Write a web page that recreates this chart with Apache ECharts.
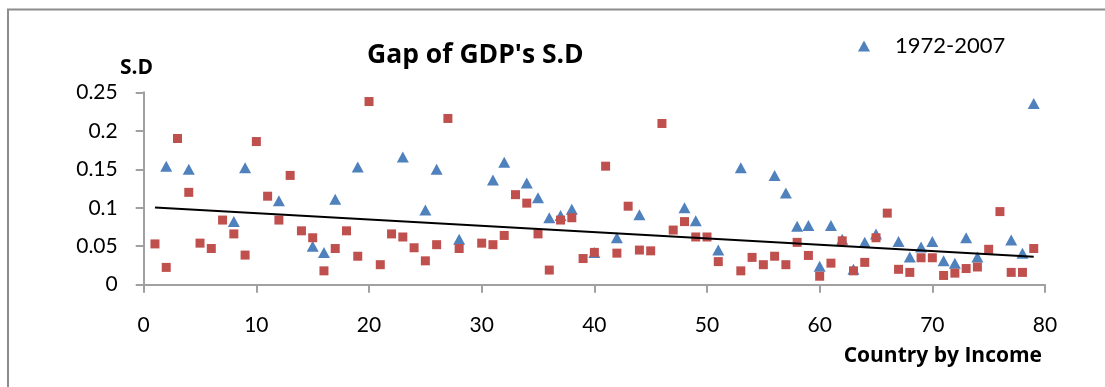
<!DOCTYPE html>
<html>
<head>
<meta charset="utf-8">
<script src="https://cdn.jsdelivr.net/npm/echarts@6/dist/echarts.min.js"></script>
<style>
html,body{margin:0;padding:0;background:#fff;}
#chart{width:1105px;height:387px;}
</style>
</head>
<body>
<div id="chart"></div>
<script>
// Country index (x) for the red series and its S.D values
const redX = [1,2,3,4,5,6,7,8,9,10,11,12,13,14,15,16,17,18,19,20,21,22,23,24,25,26,27,28,30,31,32,33,34,35,36,37,38,39,40,41,42,43,44,45,46,47,48,49,50,51,53,54,55,56,57,58,59,60,61,62,63,64,65,66,67,68,69,70,71,72,73,74,75,76,77,78,79];
const redY = [0.053,0.0225,0.19,0.12,0.054,0.047,0.084,0.066,0.0385,0.186,0.115,0.084,0.142,0.070,0.061,0.018,0.047,0.070,0.037,0.238,0.026,0.066,0.062,0.048,0.031,0.052,0.216,0.047,0.054,0.052,0.064,0.117,0.106,0.066,0.019,0.084,0.087,0.034,0.042,0.154,0.041,0.102,0.045,0.044,0.2095,0.071,0.082,0.062,0.062,0.030,0.018,0.0355,0.026,0.037,0.026,0.055,0.038,0.011,0.028,0.057,0.018,0.029,0.061,0.093,0.020,0.016,0.035,0.035,0.012,0.015,0.021,0.023,0.046,0.095,0.016,0.016,0.047];
// Blue series "1972-2007"
const blueX = [2,4,8,9,12,15,16,17,19,23,25,26,28,31,32,34,35,36,37,38,40,42,44,48,49,51,53,56,57,58,59,60,61,62,63,64,65,67,68,69,70,71,72,73,74,77,78,79];
const blueY = [0.154,0.150,0.082,0.152,0.109,0.050,0.042,0.111,0.153,0.166,0.097,0.150,0.059,0.136,0.159,0.132,0.113,0.087,0.090,0.098,0.042,0.061,0.091,0.100,0.083,0.045,0.152,0.142,0.119,0.076,0.077,0.024,0.077,0.059,0.020,0.055,0.066,0.056,0.036,0.049,0.056,0.031,0.028,0.061,0.036,0.058,0.041,0.2355];
// Linear trend line endpoints
const trendX = [1, 79];
const trendY = [0.1004, 0.0362];

const seriesName = '1972-2007';
const titleText = "Gap of GDP's S.D";
const yName = 'S.D';
const xName = 'Country by Income';

const zip = (xs, ys) => xs.map((x, i) => [x, ys[i]]);
const FONT = 'Lato';
const BOLD = 'Open Sans';
const axisGray = '#a0a0a0';

const chart = echarts.init(document.getElementById('chart'));
chart.setOption({
  animation: false,
  backgroundColor: '#fff',
  textStyle: {fontFamily: FONT},
  graphic: [{
    type: 'rect', silent: true,
    shape: {x: 8, y: 9.5, width: 1200, height: 500},
    style: {fill: 'none', stroke: '#8c8c8c', lineWidth: 2}
  }],
  title: [
    {text: titleText, left: 362, top: 37, textStyle: {fontFamily: BOLD, fontWeight: 'bold', fontSize: 26.5, color: '#000'}},
    {text: yName, left: 115, top: 53, textStyle: {fontFamily: BOLD, fontWeight: 'bold', fontSize: 21, color: '#000'}},
    {text: xName, right: 58, top: 341, textStyle: {fontFamily: BOLD, fontWeight: 'bold', fontSize: 21, color: '#000'}}
  ],
  legend: {
    data: [seriesName], left: 853, top: 30,
    itemWidth: 12, itemHeight: 11,
    textStyle: {fontFamily: FONT, fontSize: 22, color: '#000', padding: [0,0,0,20]}
  },
  grid: {left: 143.7, right: 60, top: 92.3, bottom: 102.3, containLabel: false},
  xAxis: {
    type: 'value', min: 0, max: 80, interval: 10,
    axisLine: {show: true, lineStyle: {color: axisGray, width: 2}},
    axisTick: {show: true, length: 8, lineStyle: {color: axisGray, width: 2}},
    splitLine: {show: false},
    axisLabel: {fontFamily: FONT, fontSize: 21, color: '#000', margin: 30}
  },
  yAxis: {
    type: 'value', min: 0, max: 0.25, interval: 0.05,
    axisLine: {show: true, lineStyle: {color: axisGray, width: 2}},
    axisTick: {show: true, length: 8, lineStyle: {color: axisGray, width: 2}},
    splitLine: {show: false},
    axisLabel: {fontFamily: FONT, fontSize: 21, color: '#000', margin: 26}
  },
  series: [
    {
      name: seriesName, type: 'scatter', symbol: 'triangle', symbolSize: [12, 11],
      itemStyle: {color: '#4f81bd', opacity: 1}, data: zip(blueX, blueY), z: 2
    },
    {
      name: 'other', type: 'scatter', symbol: 'rect', symbolSize: 9,
      itemStyle: {color: '#c0504d', opacity: 1}, data: zip(redX, redY), z: 3
    },
    {
      name: 'trend', type: 'line', symbol: 'none', data: zip(trendX, trendY),
      lineStyle: {color: '#000', width: 2}, z: 4
    }
  ]
});
</script>
</body>
</html>
